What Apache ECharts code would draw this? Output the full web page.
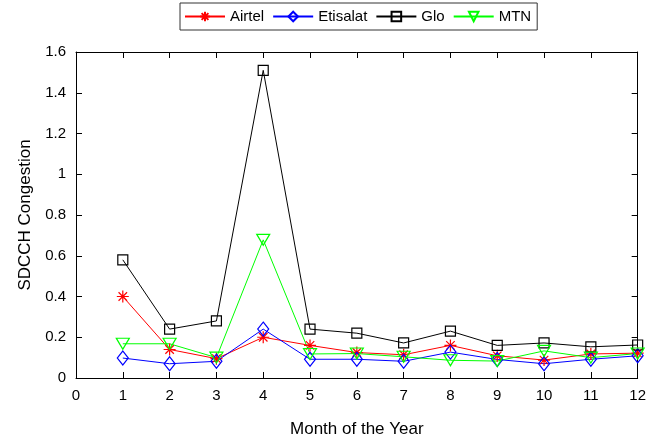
<!DOCTYPE html>
<html>
<head>
<meta charset="utf-8">
<script src="https://cdn.jsdelivr.net/npm/echarts@6/dist/echarts.min.js"></script>
<style>
html,body{margin:0;padding:0;background:#fff;}
#chart{width:649px;height:444px;}
</style>
</head>
<body>
<div id="chart"></div>
<script>
const months = [1,2,3,4,5,6,7,8,9,10,11,12];
const airtel   = [0.40,0.14,0.095,0.20,0.16,0.125,0.114,0.16,0.109,0.088,0.118,0.122];
const etisalat = [0.098,0.07,0.082,0.24,0.092,0.092,0.082,0.127,0.091,0.07,0.092,0.109];
const glo      = [0.58,0.24,0.28,1.51,0.24,0.22,0.172,0.23,0.16,0.172,0.153,0.162];
const mtn      = [0.168,0.168,0.10,0.678,0.118,0.12,0.104,0.087,0.083,0.133,0.10,0.12];
const seriesNames = ['Airtel','Etisalat','Glo','MTN'];
const xTicks = [0,1,2,3,4,5,6,7,8,9,10,11,12];
const yTicks = [0,0.2,0.4,0.6,0.8,1,1.2,1.4,1.6];

const pair = arr => months.map((m,i)=>[m,arr[i]]);
const FONT = 'Liberation Sans, Arial, sans-serif';
const asterisk = 'path://M0,-10L0,10M-10,0L10,0M-7.07,-7.07L7.07,7.07M-7.07,7.07L7.07,-7.07';

function mk(name, data, color, symbol, size, rotate){
  return {
    name, type:'line', data: pair(data),
    symbol, symbolSize:size, symbolRotate: rotate||0,
    lineStyle:{color, width:1},
    itemStyle:{color:'rgba(0,0,0,0)', borderColor:color, borderWidth:1.2},
    emphasis:{disabled:true},
    animation:false, z:2
  };
}

const chart = echarts.init(document.getElementById('chart'), null, {renderer:'canvas'});
const axisCommon = {
  type:'value', min:0,
  axisLine:{show:true, onZero:false, lineStyle:{color:'#000', width:1}},
  axisTick:{show:true, inside:true, length:6, lineStyle:{color:'#000'}},
  splitLine:{show:false}
};
chart.setOption({
  backgroundColor:'#fff',
  animation:false,
  grid:{left:76, right:11, top:52, bottom:66, containLabel:false},
  legend:{
    data:seriesNames, left:180, top:3,
    itemWidth:40, itemHeight:12, itemGap:8,
    padding:[6,6,6,4],
    borderColor:'#333', borderWidth:1, backgroundColor:'#fff',
    textStyle:{fontFamily:FONT, fontSize:15, color:'#000', padding:[0,0,0,0]},
    selectedMode:false
  },
  xAxis:[
    Object.assign({}, axisCommon, {
      max:12, interval:1, position:'bottom',
      name:'Month of the Year', nameLocation:'middle', nameGap:43,
      nameTextStyle:{fontFamily:FONT, fontSize:17, color:'#000'},
      axisLabel:{fontFamily:FONT, fontSize:15, color:'#000', margin:10,
        formatter: v => xTicks.includes(v) ? String(v) : ''}
    }),
    Object.assign({}, axisCommon, {max:12, interval:1, position:'top', axisLabel:{show:false}})
  ],
  yAxis:[
    Object.assign({}, axisCommon, {
      max:1.6, interval:0.2, position:'left',
      name:'SDCCH Congestion', nameLocation:'middle', nameGap:40,
      nameTextStyle:{fontFamily:FONT, fontSize:17, color:'#000'},
      axisLabel:{fontFamily:FONT, fontSize:15, color:'#000', margin:10,
        formatter: v => { const t = yTicks.find(y=>Math.abs(y-v)<1e-9); return t===undefined?'':String(t); }}
    }),
    Object.assign({}, axisCommon, {max:1.6, interval:0.2, position:'right', axisLabel:{show:false}})
  ],
  series:[
    mk('Airtel', airtel, '#ff0000', asterisk, 12),
    mk('Etisalat', etisalat, '#0000ff', 'diamond', [11,14]),
    mk('Glo', glo, '#000000', 'rect', 10),
    mk('MTN', mtn, '#00ff00', 'triangle', [13,11], 180)
  ]
});
</script>
</body>
</html>
